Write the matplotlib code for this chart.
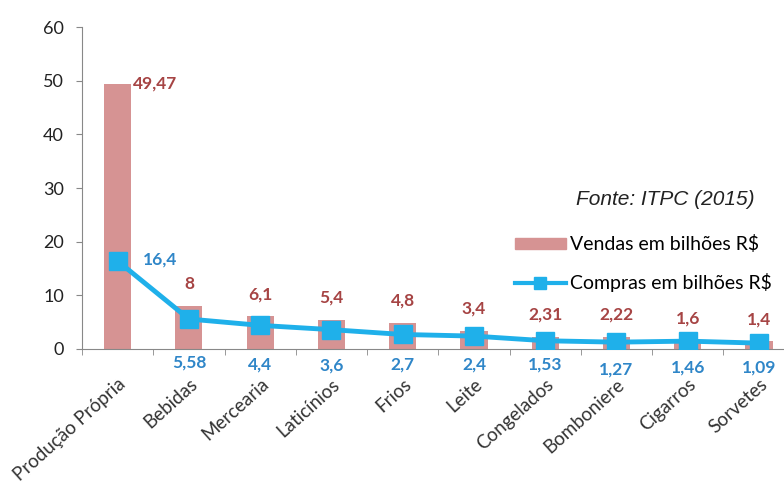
import numpy as np
import matplotlib.pyplot as plt
from matplotlib.lines import Line2D
from matplotlib.patches import Patch

# Vendas e compras por categoria (bilhões R$)
categorias = ['Produção Própria', 'Bebidas', 'Mercearia', 'Laticínios', 'Frios',
              'Leite', 'Congelados', 'Bomboniere', 'Cigarros', 'Sorvetes']
vendas = [49.47, 8, 6.1, 5.4, 4.8, 3.4, 2.31, 2.22, 1.6, 1.4]
compras = [16.4, 5.58, 4.4, 3.6, 2.7, 2.4, 1.53, 1.27, 1.46, 1.09]

cor_barra = '#d69393'
cor_linha = '#1fb0ea'
cor_rot_vendas = '#a64444'
cor_rot_compras = '#2f86c8'

plt.rcParams['font.family'] = ['Lato', 'DejaVu Sans']

def fmt(v):
    return f'{v:g}'.replace('.', ',')

fig = plt.figure(figsize=(7.84, 4.84), dpi=100)
ax = fig.add_axes([0.1046, 0.279, 0.909, 0.665])

x = np.arange(len(categorias))
ax.bar(x, vendas, width=0.38, color=cor_barra, zorder=2)
ax.plot(x, compras, color=cor_linha, lw=3.5, marker='s', markersize=13, zorder=3)

# rótulos das vendas
for i, v in enumerate(vendas):
    if i == 0:
        ax.annotate(fmt(v), (i + 0.19, v), xytext=(1, 0), textcoords='offset points',
                    ha='left', va='center', color=cor_rot_vendas, fontweight='bold', fontsize=12.5)
    else:
        ax.annotate(fmt(v), (i, v), xytext=(0, 16), textcoords='offset points',
                    ha='center', va='center', color=cor_rot_vendas, fontweight='bold', fontsize=12.5)

# rótulos das compras
desloc = [0, -10, -11, -12, -11, -11, -11, -15, -13, -13]
for i, c in enumerate(compras):
    if i == 0:
        ax.annotate(fmt(c), (i, c), xytext=(18, 1), textcoords='offset points',
                    ha='left', va='center', color=cor_rot_compras, fontweight='bold', fontsize=12.5)
    else:
        ax.annotate(fmt(c), (i, 0), xytext=(0, desloc[i]), textcoords='offset points',
                    ha='center', va='center', color=cor_rot_compras, fontweight='bold', fontsize=12.5)

ax.set_xlim(-0.5, len(categorias) - 0.5)
ax.set_ylim(0, 60)
ax.set_yticks(range(0, 61, 10))
ax.set_xticks(x)
ax.set_xticklabels(categorias, rotation=42, ha='right', rotation_mode='anchor', fontsize=13.5,
                   color='#333333')
ax.set_xticks(np.arange(-0.5, len(categorias)), minor=True)
ax.tick_params(axis='x', which='major', length=0, pad=19)
ax.tick_params(axis='x', which='minor', length=4, color='#888888', direction='out')
ax.tick_params(axis='y', length=4, color='#888888', labelsize=13, labelcolor='#222222', pad=9)

for lado in ['top', 'right']:
    ax.spines[lado].set_visible(False)
for lado in ['left', 'bottom']:
    ax.spines[lado].set_color('#888888')

fig.text(0.963, 0.587, 'Fonte: ITPC (2015)', ha='right', va='center',
         fontsize=15, style='italic', family=['Liberation Sans', 'DejaVu Sans'], color='#222222')

handles = [Patch(color=cor_barra, label='Vendas em bilhões R$'),
           Line2D([], [], color=cor_linha, lw=3, marker='s', markersize=9, label='Compras em bilhões R$')]
fig.legend(handles=handles, loc='center left', bbox_to_anchor=(515 / 784, 1 - 263.5 / 484), frameon=False,
           fontsize=14, handlelength=2.6, handleheight=0.5, handletextpad=0.25,
           labelspacing=1.0, borderpad=0, borderaxespad=0)

fig.savefig('out.png', dpi=100)
